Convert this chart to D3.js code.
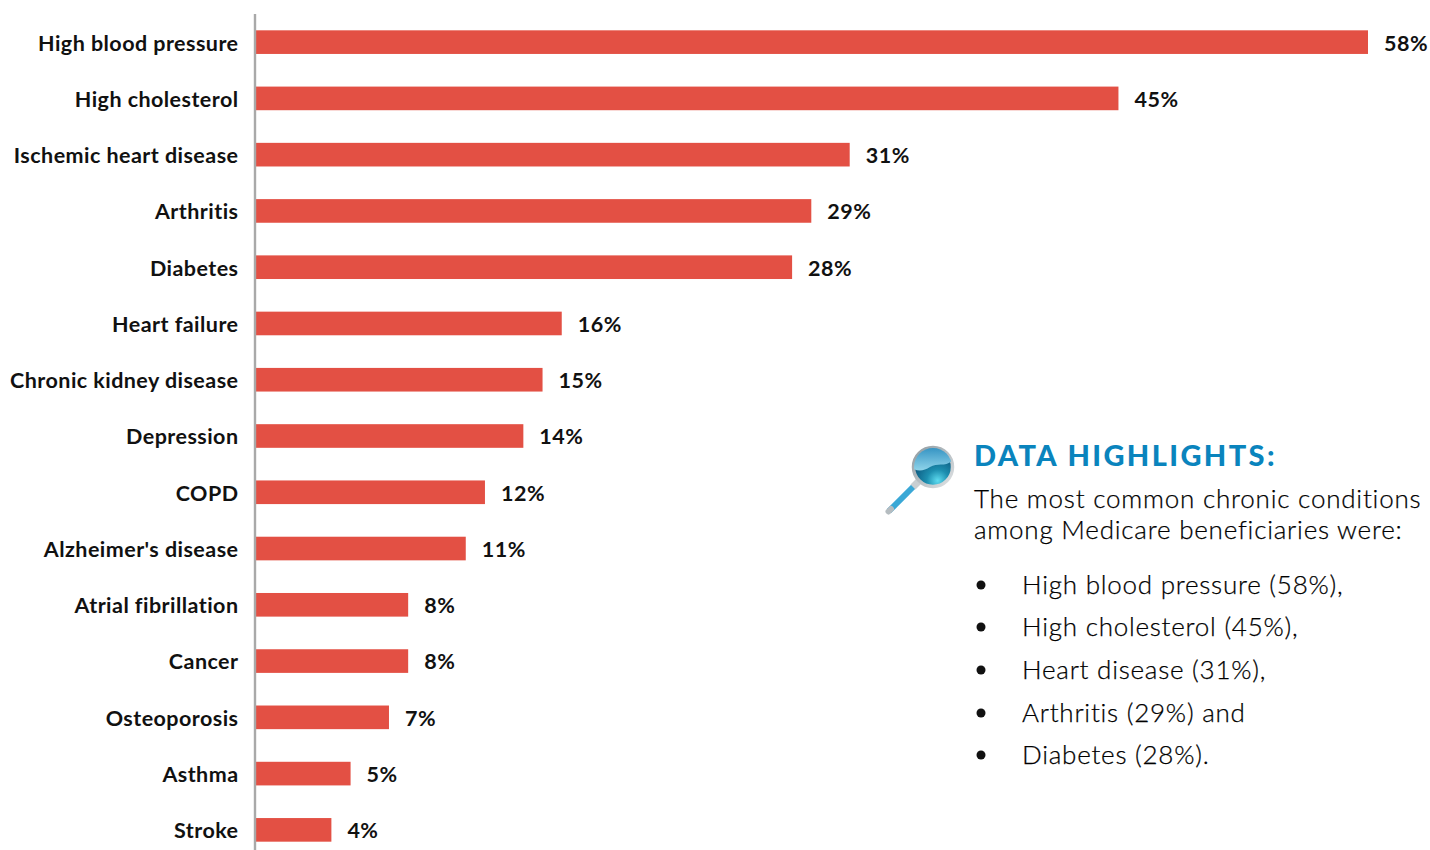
<!DOCTYPE html>
<html><head><meta charset="utf-8"><style>html,body{margin:0;background:#fff}svg{display:block}text{font-family:Lato,sans-serif}</style>
<script src="https://cdn.jsdelivr.net/npm/d3@7"></script></head><body><svg id="c" width="1430" height="850"></svg>
<script>
const categories=["High blood pressure","High cholesterol","Ischemic heart disease","Arthritis","Diabetes","Heart failure","Chronic kidney disease","Depression","COPD","Alzheimer's disease","Atrial fibrillation","Cancer","Osteoporosis","Asthma","Stroke"];
const values=[58,45,31,29,28,16,15,14,12,11,8,8,7,5,4];
const bullets=["High blood pressure (58%),","High cholesterol (45%),","Heart disease (31%),","Arthritis (29%) and","Diabetes (28%)."];
const intro=["The most common chronic conditions","among Medicare beneficiaries were:"];
const svg=d3.select("#c");
const x=d3.scaleLinear().domain([0,58]).range([254.6,1368]);
const y=d3.scaleBand().domain(categories).range([14,858]).paddingInner(0.58).paddingOuter(0.29);
svg.selectAll("rect.b").data(values).join("rect").attr("class","b").attr("x",x(0)).attr("y",(d,i)=>y(categories[i])).attr("width",d=>x(d)-x(0)).attr("height",y.bandwidth()).attr("fill","#e35044");
svg.append("line").attr("x1",255).attr("x2",255).attr("y1",14).attr("y2",850).attr("stroke","#a9a9a9").attr("stroke-width",2.4);
const cy=c=>y(c)+y.bandwidth()/2;
svg.selectAll("text.l").data(categories).join("text").attr("class","l").attr("x",238.5).attr("y",d=>cy(d)+8.4).attr("text-anchor","end").attr("font-size",21.5).attr("letter-spacing",0.45).attr("font-weight",700).attr("fill","#111").text(d=>d);
svg.selectAll("text.v").data(values).join("text").attr("class","v").attr("x",d=>x(d)+16).attr("y",(d,i)=>cy(categories[i])+8.4).attr("font-size",21.5).attr("letter-spacing",0.5).attr("font-weight",700).attr("fill","#111").text(d=>d+"%");
svg.append("text").attr("x",974).attr("y",466).attr("font-size",29).attr("font-weight",900).attr("letter-spacing",2.4).attr("fill","#0a84bd").text("DATA HIGHLIGHTS:");
svg.selectAll("text.i").data(intro).join("text").attr("class","i").attr("x",974).attr("y",(d,i)=>507.8+i*31).attr("font-size",26).attr("letter-spacing",0.78).attr("font-weight",300).attr("fill","#000").attr("stroke","#000").attr("stroke-width",0.25).text(d=>d);
const by=[593.8,635.8,678.8,721.8,763.8];
svg.selectAll("text.t").data(bullets).join("text").attr("class","t").attr("x",1022).attr("y",(d,i)=>by[i]).attr("font-size",26).attr("letter-spacing",0.76).attr("font-weight",300).attr("fill","#000").attr("stroke","#000").attr("stroke-width",0.25).text(d=>d);
svg.selectAll("circle.d").data(bullets).join("circle").attr("class","d").attr("cx",981).attr("cy",(d,i)=>by[i]-8.8).attr("r",4.5).attr("fill","#111");
const defs=svg.append("defs");
const g=defs.append("radialGradient").attr("id","lens").attr("cx","0.62").attr("cy","0.85").attr("r","0.8");
g.append("stop").attr("offset","0").attr("stop-color","#5fdcf0");g.append("stop").attr("offset","0.35").attr("stop-color","#1d8fb0");g.append("stop").attr("offset","0.8").attr("stop-color","#0d5a80");
const t=defs.append("linearGradient").attr("id","top").attr("x1",0).attr("y1",0).attr("x2",0).attr("y2",1);
t.append("stop").attr("offset","0").attr("stop-color","#2f8fc0");t.append("stop").attr("offset","1").attr("stop-color","#8fd4ea");
const r=defs.append("linearGradient").attr("id","ring").attr("x1",0).attr("y1",0).attr("x2",1).attr("y2",1);
r.append("stop").attr("offset","0").attr("stop-color","#8f9aa0");r.append("stop").attr("offset","1").attr("stop-color","#e0e3e5");
defs.append("clipPath").attr("id","lc").append("circle").attr("cx",933).attr("cy",467).attr("r",19);
const m=svg.append("g");
m.append("line").attr("x1",914).attr("y1",486).attr("x2",889).attr("y2",511).attr("stroke","#3aa8d6").attr("stroke-width",6);
m.append("line").attr("x1",891).attr("y1",509).attr("x2",888.5).attr("y2",511.5).attr("stroke","#b5bcc0").attr("stroke-width",6).attr("stroke-linecap","round");
m.append("line").attr("x1",919).attr("y1",481).attr("x2",913).attr("y2",487).attr("stroke","#c9cfd2").attr("stroke-width",7);
m.append("circle").attr("cx",933).attr("cy",467).attr("r",19.5).attr("fill","url(#lens)").attr("stroke","url(#ring)").attr("stroke-width",3.5);
m.append("path").attr("clip-path","url(#lc)").attr("d","M912 446H954V459C946 468 938 462 930 467C924 471 918 472 912 468Z").attr("fill","url(#top)");
</script></body></html>
